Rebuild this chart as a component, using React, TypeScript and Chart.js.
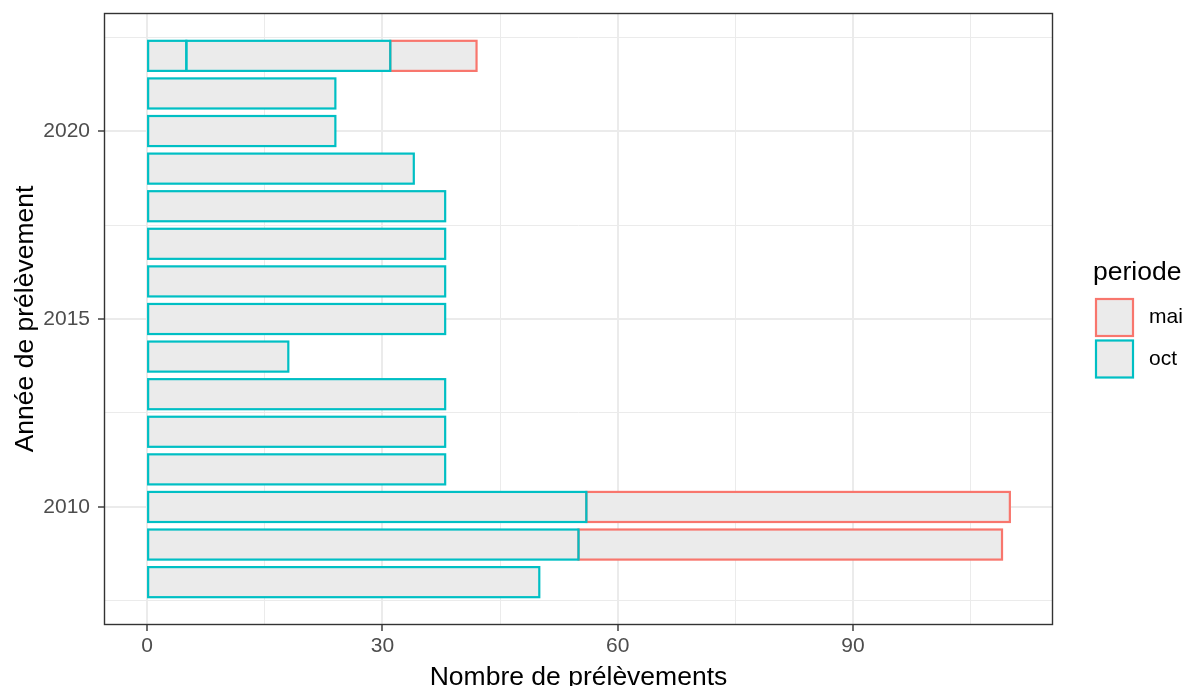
import React, { useEffect, useRef } from "react";
import { Chart, registerables } from "chart.js";

Chart.register(...registerables);

// ---- data ----
const years = [2008, 2009, 2010, 2011, 2012, 2013, 2014, 2015, 2016, 2017, 2018, 2019, 2020, 2021, 2022];
const octFirst = [50, 55, 56, 38, 38, 38, 18, 38, 38, 38, 38, 34, 24, 24, 5];
const octSecondYears = [2022];
const octSecond = [26];
const maiYears = [2009, 2010, 2022];
const maiValues = [54, 54, 11];

const xMajorTicks = [0, 30, 60, 90];
const xMinorTicks = [15, 45, 75, 105];
const yMajorTicks = [2010, 2015, 2020];
const yMinorTicks = [2007.5, 2012.5, 2017.5, 2022.5];

const periodes = ["mai", "oct"];
const periodeColors = ["#F8766D", "#00BFC4"];

const xTitle = "Nombre de prélèvements";
const yTitle = "Année de prélèvement";
const legendTitle = "periode";

const FONT = '"Liberation Sans", Arial, Helvetica, sans-serif';
const BAR_FILL = "#EBEBEB";
const GRID = "#EBEBEB";
const DARK = "#333333";
const BAR_LINE = 2.2;
const TITLE_SIZE = 26.5;
const TICK_SIZE = 21;

export default function App() {
  const ref = useRef<HTMLCanvasElement | null>(null);

  useEffect(() => {
    document.body.style.margin = "0";
    const canvas = ref.current;
    if (!canvas) return;

    const outlinePlugin = {
      id: "outline",
      afterDatasetsDraw(chart: any) {
        const ctx = chart.ctx;
        ctx.save();
        ctx.lineWidth = BAR_LINE;
        ctx.lineJoin = "miter";
        // mai drawn first, oct on top (as in the reference)
        [2, 0, 1].forEach((di) => {
          const meta = chart.getDatasetMeta(di);
          ctx.strokeStyle = chart.data.datasets[di].outlineColor;
          meta.data.forEach((el: any) => {
            const p = el.getProps(["x", "y", "base", "height"], true);
            const left = Math.min(p.x, p.base);
            const right = Math.max(p.x, p.base);
            ctx.strokeRect(left, p.y - p.height / 2, right - left, p.height);
          });
        });
        ctx.restore();
      },
    };

    const decorPlugin = {
      id: "decor",
      afterDraw(chart: any) {
        const ctx = chart.ctx;
        const a = chart.chartArea;
        ctx.save();
        // panel border
        ctx.strokeStyle = DARK;
        ctx.lineWidth = 1.4;
        ctx.strokeRect(a.left + 0.5, a.top + 0.5, a.right - a.left - 1, a.bottom - a.top - 1);

        // axis titles
        ctx.fillStyle = "#000000";
        ctx.font = `${TITLE_SIZE}px ${FONT}`;
        ctx.textAlign = "center";
        ctx.textBaseline = "alphabetic";
        ctx.fillText(xTitle, (a.left + a.right) / 2, 685);
        ctx.save();
        ctx.translate(33, (a.top + a.bottom) / 2);
        ctx.rotate(-Math.PI / 2);
        ctx.fillText(yTitle, 0, 0);
        ctx.restore();

        // legend
        ctx.textAlign = "left";
        ctx.fillText(legendTitle, 1093, 280);
        periodes.forEach((p, i) => {
          const y0 = 299 + i * 41.5;
          ctx.fillStyle = BAR_FILL;
          ctx.fillRect(1096, y0, 37, 37);
          ctx.strokeStyle = periodeColors[i];
          ctx.lineWidth = BAR_LINE;
          ctx.strokeRect(1096, y0, 37, 37);
          ctx.fillStyle = "#000000";
          ctx.font = `${TICK_SIZE}px ${FONT}`;
          ctx.textBaseline = "middle";
          ctx.fillText(p, 1149, y0 + 18.5);
        });
        ctx.restore();
      },
    };

    const chart = new Chart(canvas, {
      type: "bar",
      data: {
        datasets: [
          {
            label: "oct",
            data: years.map((y, i) => ({ x: octFirst[i], y })),
            backgroundColor: BAR_FILL,
            outlineColor: periodeColors[1],
            borderWidth: 0,
          },
          {
            label: "oct2",
            data: octSecondYears.map((y, i) => ({ x: octSecond[i], y })),
            backgroundColor: BAR_FILL,
            outlineColor: periodeColors[1],
            borderWidth: 0,
          },
          {
            label: "mai",
            data: maiYears.map((y, i) => ({ x: maiValues[i], y })),
            backgroundColor: BAR_FILL,
            outlineColor: periodeColors[0],
            borderWidth: 0,
          },
        ],
      },
      options: {
        indexAxis: "y",
        responsive: false,
        animation: false,
        devicePixelRatio: 1,
        layout: { padding: { top: 13, right: 131, left: 0, bottom: 0 } },
        datasets: { bar: { categoryPercentage: 1, barPercentage: 0.8, inflateAmount: 0 } },
        plugins: { legend: { display: false }, tooltip: { enabled: false }, title: { display: false } },
        scales: {
          x: {
            type: "linear",
            stacked: true,
            offset: false,
            min: -5.5,
            max: 115.5,
            afterBuildTicks: (scale: any) => {
              scale.ticks = [...xMajorTicks, ...xMinorTicks].sort((a, b) => a - b).map((v) => ({ value: v }));
            },
            afterFit: (scale: any) => {
              scale.height = 61;
            },
            border: { display: false },
            grid: {
              offset: false,
              color: GRID,
              lineWidth: (c: any) => (xMajorTicks.includes(c.tick?.value) ? 2 : 1),
              tickColor: (c: any) => (xMajorTicks.includes(c.tick?.value) ? DARK : "rgba(0,0,0,0)"),
              tickLength: 6,
              tickWidth: 1.4,
              drawTicks: true,
            },
            ticks: {
              autoSkip: false,
              maxRotation: 0,
              padding: 3,
              color: "#4D4D4D",
              font: { family: FONT, size: TICK_SIZE },
              callback: (v: any) => (xMajorTicks.includes(Number(v)) ? String(v) : ""),
            },
          },
          y: {
            type: "linear",
            stacked: true,
            offset: false,
            min: 2006.86,
            max: 2023.14,
            afterBuildTicks: (scale: any) => {
              scale.ticks = [...yMajorTicks, ...yMinorTicks].sort((a, b) => a - b).map((v) => ({ value: v }));
            },
            afterFit: (scale: any) => {
              scale.width = 104;
              scale.paddingTop = 0;
              scale.paddingBottom = 0;
            },
            border: { display: false },
            grid: {
              offset: false,
              color: GRID,
              lineWidth: (c: any) => (yMajorTicks.includes(c.tick?.value) ? 2 : 1),
              tickColor: (c: any) => (yMajorTicks.includes(c.tick?.value) ? DARK : "rgba(0,0,0,0)"),
              tickLength: 6,
              tickWidth: 1.4,
              drawTicks: true,
            },
            ticks: {
              autoSkip: false,
              padding: 8,
              color: "#4D4D4D",
              font: { family: FONT, size: TICK_SIZE },
              callback: (v: any) => (yMajorTicks.includes(Number(v)) ? String(v) : ""),
            },
          },
        },
      },
      plugins: [outlinePlugin, decorPlugin],
    } as any);

    return () => chart.destroy();
  }, []);

  return (
    <div style={{ position: "relative", width: 1184, height: 686 }}>
      <canvas ref={ref} width={1184} height={686} style={{ display: "block" }} />
    </div>
  );
}
